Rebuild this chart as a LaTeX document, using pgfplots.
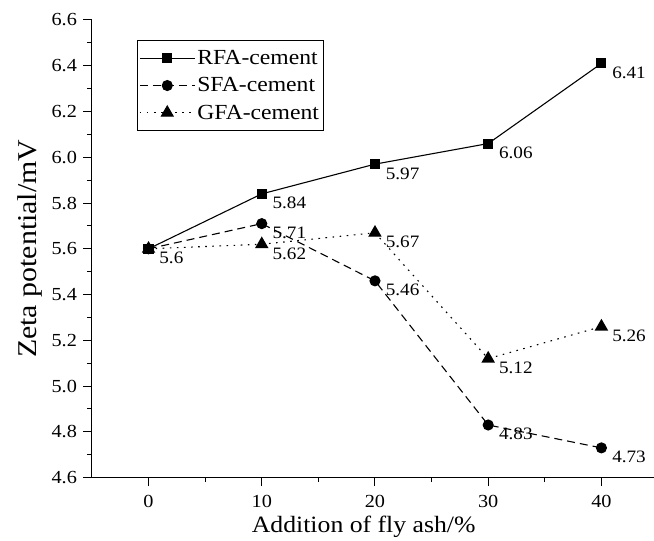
\documentclass[border=0pt]{standalone}
\usepackage{fontspec}
\setmainfont{Liberation Serif}[FakeStretch=1.1]
\usepackage{pgfplots}
\pgfplotsset{compat=1.18}

\begin{document}
\begin{tikzpicture}
\begin{axis}[
  at={(0,0)}, anchor=south west,
  scale only axis, width=562bp, height=458bp,
  xmin=-5, xmax=44.6, ymin=4.6, ymax=6.6,
  axis x line*=bottom, axis y line*=left,
  axis line style={line width=1pt,-},
  xtick={0,10,20,30,40}, minor xtick={5,15,25,35},
  ytick={4.6,4.8,5.0,5.2,5.4,5.6,5.8,6.0,6.2,6.4,6.6},
  minor y tick num=1,
  tick align=outside, major tick length=8.5bp, minor tick length=4.5bp,
  every tick/.style={black, line width=1pt},
  tick label style={font=\fontsize{18.5}{20}\selectfont},
  /pgf/number format/assume math mode=true,
  x tick label style={yshift=-6bp},
  y tick label style={xshift=-3bp, /pgf/number format/.cd, fixed, fixed zerofill, precision=1},
  xlabel={Addition of fly ash/\%},
  ylabel={Zeta potential/mV},
  xlabel style={font=\fontsize{23.5}{25}\selectfont,
    at={(rel axis cs:0.484,0)}, anchor=base, yshift=-55bp},
  ylabel style={font=\fontsize{27.3}{29}\selectfont,
    at={(rel axis cs:0,0.5)}, anchor=base, yshift=55bp},
  legend style={at={(rel axis cs:0.080,0.956)}, anchor=north west,
    draw=black, line width=0.8pt, font=\fontsize{21.6}{23}\selectfont,
    inner xsep=2pt, inner ysep=8bp, row sep=7.5bp},
  legend cell align=left,
  legend image code/.code={
    \draw[mark repeat=2, mark phase=2, #1] plot coordinates {(0bp,0bp) (27.5bp,0bp) (55bp,0bp)};},
  nodes near coords,
  point meta=explicit symbolic,
  every node near coord/.append style={anchor=north west,
    xshift=7bp, yshift=0.5bp, font=\fontsize{17.5}{19}\selectfont, black},
]
\addplot[black, line width=1.1pt, mark=square*, mark size=4.5bp,
  mark options={solid}] coordinates {
  (0,5.6) [5.6] (10,5.84) [5.84] (20,5.97) [5.97] (30,6.06) [6.06] (40,6.41) [6.41]};
\addlegendentry{RFA-cement}
\addplot[black, line width=1.1pt, dash pattern=on 8bp off 5bp, mark=*, mark size=5bp,
  mark options={solid}] coordinates {
  (0,5.6) [{}] (10,5.71) [5.71] (20,5.46) [5.46] (30,4.83) [4.83] (40,4.73) [4.73]};
\addlegendentry{SFA-cement}
\addplot[black, line width=1.1pt, dash pattern=on 1.6bp off 5.5bp, mark=triangle*, mark size=6.7bp,
  mark options={solid}] coordinates {
  (0,5.6) [{}] (10,5.62) [5.62] (20,5.67) [5.67] (30,5.12) [5.12] (40,5.26) [5.26]};
\addlegendentry{GFA-cement}
\end{axis}
\useasboundingbox (-92bp,-60bp) rectangle (562bp,478bp);
\end{tikzpicture}
\end{document}
